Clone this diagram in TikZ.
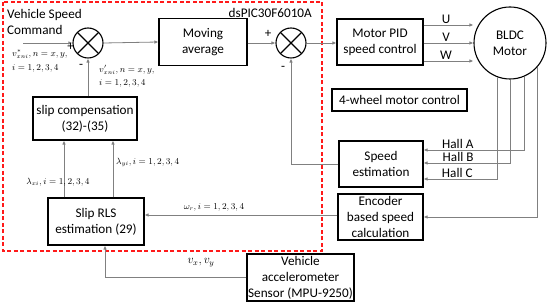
\documentclass[tikz,border=0pt]{standalone}
\usepackage{fontspec}
\setmainfont{Carlito}
\usetikzlibrary{arrows.meta, calc, positioning}
\definecolor{dsred}{HTML}{FF1A1A}
\definecolor{wiregray}{HTML}{808080}
\tikzset{
  % blocco funzionale
  block/.style={draw=black, line width=1.1pt, align=center, inner sep=0pt,
    font=\fontsize{13.2}{16}\selectfont},
  % nodo sommatore
  sumnode/.style={circle, draw=black, line width=1.1pt, minimum size=30pt, inner sep=0pt,
    path picture={\draw[line width=1.1pt]
      (path picture bounding box.north west) -- (path picture bounding box.south east)
      (path picture bounding box.north east) -- (path picture bounding box.south west);}},
  % motore
  motornode/.style={circle, draw=black, line width=1.1pt, minimum size=72pt, inner sep=0pt,
    align=center, font=\fontsize{13.2}{16}\selectfont},
  % collegamenti
  wire/.style={draw=wiregray, line width=0.8pt},
  arr/.style={wire, -{Latex[length=4pt, width=3.5pt]}},
  % riquadro del controllore
  ctrlbox/.style={draw=dsred, line width=1.1pt, dash pattern=on 4pt off 2.5pt},
  % etichette
  lbl/.style={font=\fontsize{13.2}{16}\selectfont, align=left, inner sep=1pt},
  mathlbl/.style={font=\fontsize{9}{13.5}\selectfont, align=left, inner sep=0pt},
  signlbl/.style={font=\fontsize{13}{14}\selectfont, inner sep=0pt},
}
\begin{document}
\begin{tikzpicture}[x=1pt, y=-1pt]
  \useasboundingbox (0,0) rectangle (550,304);
  % controllore dsPIC
  \draw[ctrlbox] (3,2) rectangle (322,251);
  \node[lbl, anchor=east] (dspic) at (313,13) {dsPIC30F6010A};
  \node[lbl, anchor=north west] (cmdtxt) at (6,8.5) {Vehicle Speed\\Command};

  % blocchi
  \node[sumnode] (sum1) at (88,43) {};
  \node[sumnode] (sum2) at (291,43) {};
  \node[block, minimum width=88pt, minimum height=47pt] (movavg) at (203,42) {Moving\\average};
  \node[block, minimum width=104pt, minimum height=43pt] (slip) at (85,118.5) {slip compensation\\(32)-(35)};
  \node[block, minimum width=96pt, minimum height=47pt] (rls) at (96,221.5) {Slip RLS\\estimation (29)};
  \node[block, minimum width=86pt, minimum height=46pt] (pid) at (380,42) {Motor PID\\speed control};
  \node[motornode] (motor) at (510,43) {BLDC\\Motor};
  \node[block, minimum width=135pt, minimum height=22pt] (wheel) at (399.5,100) {4-wheel motor control};
  \node[block, minimum width=84pt, minimum height=46pt] (speed) at (381,164) {Speed\\estimation};
  \node[block, minimum width=85pt, minimum height=46pt] (enc) at (380.5,217) {Encoder\\based speed\\calculation};
  \node[block, minimum width=107pt, minimum height=47pt] (accel) at (300.5,277.5) {Vehicle\\accelerometer\\Sensor (MPU-9250)};

  % catena diretta
  \coordinate (cmd) at (23,43);
  \draw[arr] (cmd) -- (sum1.west);
  \draw[arr] (sum1.east) -- (movavg.west);
  \draw[arr] (movavg.east |- sum2) -- (sum2.west);
  \draw[arr] (sum2.east) -- (pid.west |- sum2);
  \foreach \dy/\ph in {-18/U, 0/V, 18/W}
    \draw[arr] ([yshift=-\dy pt]pid.east |- sum2) -- ([yshift=-\dy pt]motor.west)
      node[pos=0.45, above, lbl] {\ph};

  % retroazione
  \draw[arr] (sum1.south |- slip.north) -- (sum1.south);
  \draw[arr] ([xshift=-32pt]rls.north) -- ([xshift=-32pt]rls.north |- slip.south);
  \draw[arr] ([xshift=17pt]rls.north) -- ([xshift=17pt]rls.north |- slip.south);
  \draw[arr] (motor.-67.1) |- node[pos=0.83, above, lbl] {Hall A} ([yshift=14pt]speed.east);
  \draw[arr] (motor.-90) |- node[pos=0.80, above, lbl] {Hall B} ([yshift=1pt]speed.east);
  \draw[arr] (motor.-111.2) |- node[pos=0.77, above, lbl] {Hall C} ([yshift=-15pt]speed.east);
  \draw[arr] (motor.-41.4) |- (enc.east);
  \draw[arr] (speed.west) -| (sum2.south);
  \draw[arr] ([yshift=2pt]enc.west) -- ([yshift=2pt]enc.west -| rls.east);
  \draw[arr] (accel.west) -| ([xshift=9pt]rls.south);

  % etichette dei segnali
  \node[mathlbl, anchor=north west] (vstar) at (12,50) {$v^{*}_{xni},n=x,y,$\\$i=1,2,3,4$};
  \node[mathlbl, anchor=north west] (vprime) at (99,65) {$v'_{xni},n=x,y,$\\$i=1,2,3,4$};
  \node[mathlbl] (lamx) at (58,182) {$\lambda_{xi},i=1,2,3,4$};
  \node[mathlbl, anchor=west] (lamy) at (116,162) {$\lambda_{yi},i=1,2,3,4$};
  \node[mathlbl] (omr) at (214,207) {$\omega_{r},i=1,2,3,4$};
  \node[mathlbl, font=\fontsize{12}{14}\selectfont] (vxy) at (201,263) {$v_{x},v_{y}$};
  \node[signlbl] at (70.5,47) {+};
  \node[signlbl] at (81,66) {-};
  \node[signlbl] at (268,34) {+};
  \node[signlbl] at (283,68) {-};
\end{tikzpicture}
\end{document}
